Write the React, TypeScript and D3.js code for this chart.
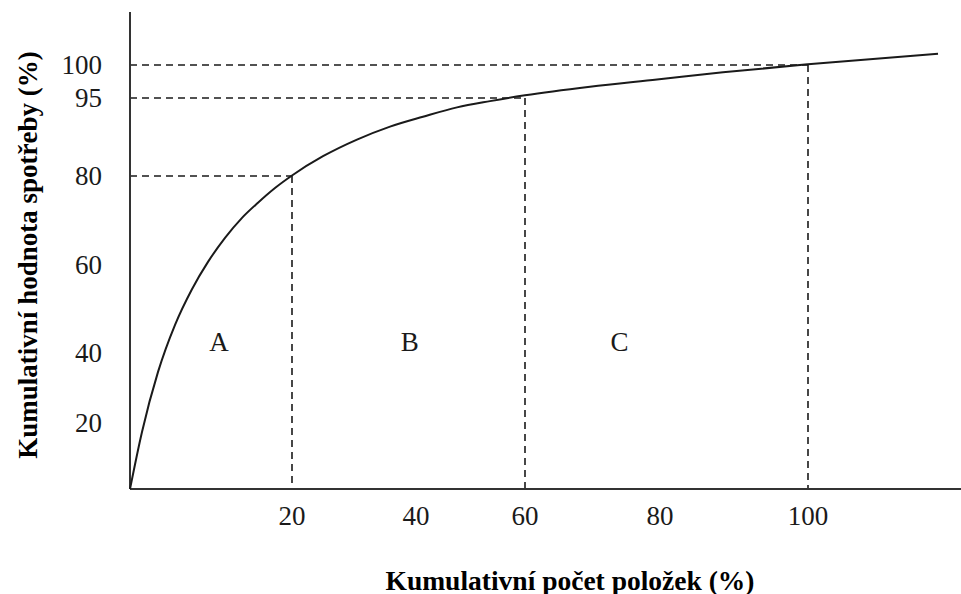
import { useEffect, useRef } from 'react';
import * as d3 from 'd3';

// x ticks and the uneven spacing of the schematic axis
const xTicks = [20, 40, 60, 80, 100];
const xBreaks = [0, 20, 40, 60, 80, 100];
const yTicks = [20, 40, 60, 80, 95, 100];
const yBreaks = [0, 20, 40, 60, 80, 95, 100];

// cumulative items (%) vs cumulative consumption value (%)
const curveX = [0, 1.48, 3.46, 5.56, 7.65, 9.63, 11.73, 13.83, 15.8, 17.9, 20, 25, 30.48, 35.81, 41.28, 47.52, 53.58, 60, 69.63, 79.56, 88.51, 100, 117.57];
const curveY = [0, 17.3, 34.6, 46.4, 54.5, 60.7, 66.1, 70.6, 74.0, 77.3, 80.1, 83.8, 87.0, 89.5, 91.4, 93.2, 94.4, 95.4, 96.7, 97.8, 98.9, 100.1, 101.7];

// class boundaries: [items %, value %]
const cutoffs = [
  { x: 20, y: 80 },
  { x: 60, y: 95 },
  { x: 100, y: 100 }
];

const zones = [
  { label: 'A', x: 11, y: 42.5 },
  { label: 'B', x: 39, y: 42.5 },
  { label: 'C', x: 74, y: 42.5 }
];

const xTitle = 'Kumulativní počet položek (%)';
const yTitle = 'Kumulativní hodnota spotřeby (%)';

export default function App() {
  const svgRef = useRef<SVGSVGElement>(null);
  const width = 961;
  const height = 594;

  useEffect(() => {
    const svg = d3.select(svgRef.current);
    svg.selectAll('*').remove();

    const x = d3.scaleLinear()
      .domain(xBreaks)
      .range([130, 292, 416, 525, 660, 808]);

    const y = d3.scaleLinear()
      .domain(yBreaks)
      .range([489, 423, 353, 265, 176, 98, 65]);

    const font = '"Liberation Serif", "Times New Roman", serif';
    const ink = '#1a1a1a';

    // dashed guides
    cutoffs.forEach(c => {
      svg.append('line')
        .attr('x1', x(0))
        .attr('x2', x(c.x))
        .attr('y1', y(c.y))
        .attr('y2', y(c.y))
        .attr('stroke', ink)
        .attr('stroke-width', 1.6)
        .attr('stroke-dasharray', '7,5');

      svg.append('line')
        .attr('x1', x(c.x))
        .attr('x2', x(c.x))
        .attr('y1', y(c.y))
        .attr('y2', y(0))
        .attr('stroke', ink)
        .attr('stroke-width', 1.6)
        .attr('stroke-dasharray', '7,5');
    });

    // axes
    svg.append('line')
      .attr('x1', x(0))
      .attr('x2', x(0))
      .attr('y1', 12)
      .attr('y2', y(0))
      .attr('stroke', '#333')
      .attr('stroke-width', 2);

    svg.append('line')
      .attr('x1', x(0))
      .attr('x2', width)
      .attr('y1', y(0))
      .attr('y2', y(0))
      .attr('stroke', '#333')
      .attr('stroke-width', 2);

    // curve
    const points = curveX.map((v, i) => [v, curveY[i]] as [number, number]);
    const line = d3.line<[number, number]>()
      .x(d => x(d[0]))
      .y(d => y(d[1]))
      .curve(d3.curveMonotoneX);

    svg.append('path')
      .datum(points)
      .attr('d', line)
      .attr('fill', 'none')
      .attr('stroke', ink)
      .attr('stroke-width', 2);

    // tick labels
    xTicks.forEach(t => {
      svg.append('text')
        .attr('x', x(t))
        .attr('y', 516)
        .attr('text-anchor', 'middle')
        .attr('dominant-baseline', 'central')
        .attr('fill', ink)
        .style('font-family', font)
        .style('font-size', '27px')
        .text(t);
    });

    yTicks.forEach(t => {
      svg.append('text')
        .attr('x', 102)
        .attr('y', y(t))
        .attr('text-anchor', 'end')
        .attr('dominant-baseline', 'central')
        .attr('fill', ink)
        .style('font-family', font)
        .style('font-size', '27px')
        .text(t);
    });

    // zone letters
    zones.forEach(z => {
      svg.append('text')
        .attr('x', x(z.x))
        .attr('y', y(z.y))
        .attr('text-anchor', 'middle')
        .attr('dominant-baseline', 'central')
        .attr('fill', ink)
        .style('font-family', font)
        .style('font-size', '27px')
        .text(z.label);
    });

    // axis titles
    svg.append('text')
      .attr('x', 570)
      .attr('y', 580)
      .attr('text-anchor', 'middle')
      .attr('dominant-baseline', 'central')
      .attr('fill', '#000')
      .style('font-family', font)
      .style('font-size', '27.5px')
      .style('font-weight', '700')
      .text(xTitle);

    svg.append('text')
      .attr('transform', 'translate(28,255) rotate(-90)')
      .attr('text-anchor', 'middle')
      .attr('dominant-baseline', 'central')
      .attr('fill', '#000')
      .style('font-family', font)
      .style('font-size', '27px')
      .style('font-weight', '700')
      .text(yTitle);
  }, []);

  return (
    <svg
      ref={svgRef}
      width={width}
      height={height}
      style={{ position: 'absolute', left: 0, top: 0, background: '#fff' }}
    />
  );
}
